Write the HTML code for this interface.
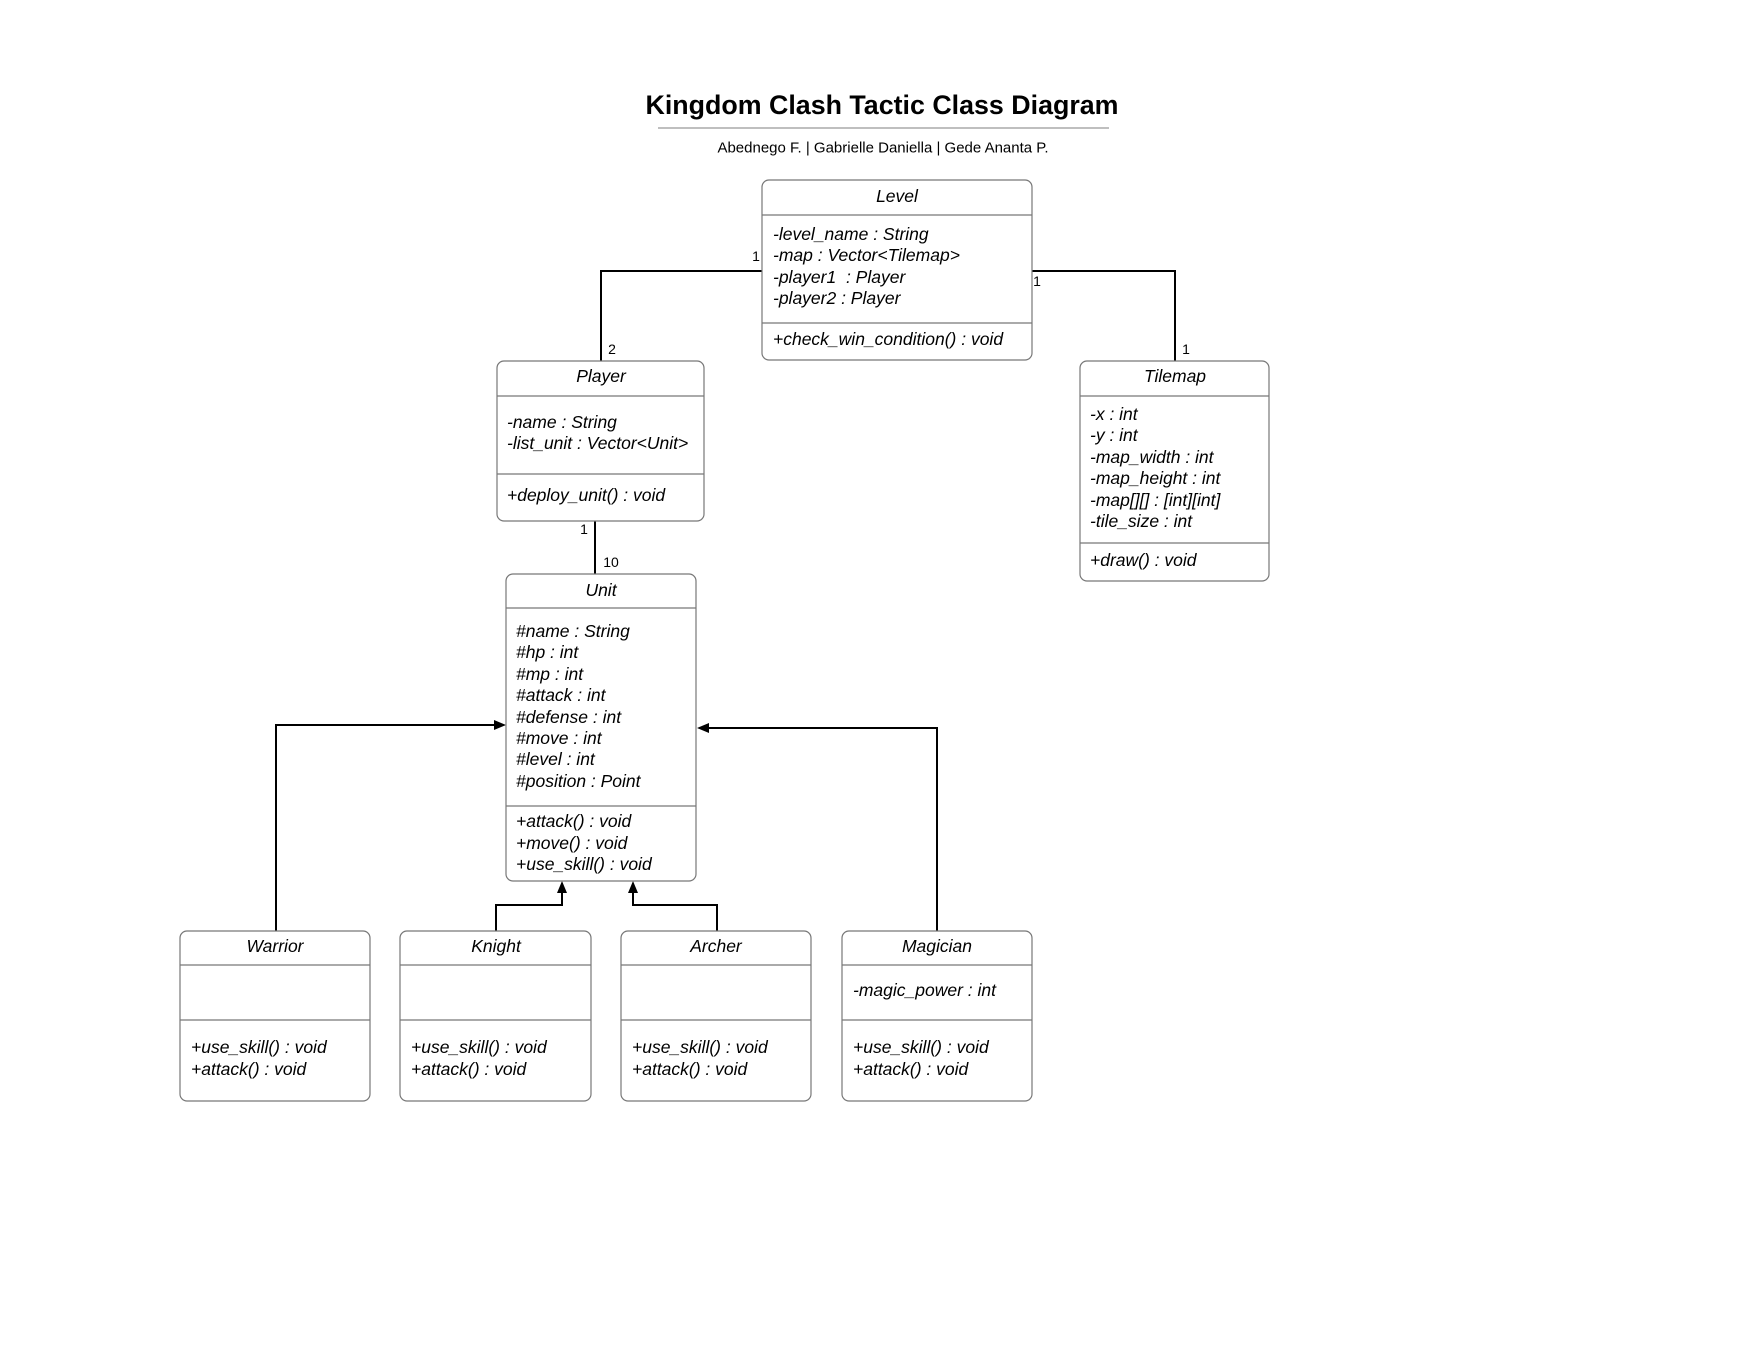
<!DOCTYPE html>
<html><head><meta charset="utf-8"><style>
html,body{margin:0;padding:0;background:#fff;}
svg{display:block;}
text{font-family:"Liberation Sans",sans-serif;fill:#000;}
.i{font-style:italic;font-size:17.5px;}
.m{font-size:14px;}
.box{fill:#fff;stroke:#777;stroke-width:1.2;}
.sep{stroke:#777;stroke-width:1.2;}
.c{stroke:#000;stroke-width:2;fill:none;}
</style></head><body>
<svg width="1763" height="1360" viewBox="0 0 1763 1360" xmlns="http://www.w3.org/2000/svg">
<text x="882" y="105" text-anchor="middle" dominant-baseline="central" font-size="26.8" font-weight="bold">Kingdom Clash Tactic Class Diagram</text>
<line x1="658" y1="128" x2="1109" y2="128" stroke="#aaa" stroke-width="1.5"/>
<text x="883" y="148" text-anchor="middle" dominant-baseline="central" font-size="15">Abednego F. | Gabrielle Daniella | Gede Ananta P.</text>

<!-- connectors -->
<polyline class="c" points="762,271 601,271 601,361"/>
<polyline class="c" points="1032,271 1175,271 1175,361"/>
<line class="c" x1="595" y1="521" x2="595" y2="574"/>
<polyline class="c" points="276,932 276,725 496,725"/>
<polygon points="506,725 494,720 494,730"/>
<polyline class="c" points="937,932 937,728 708,728"/>
<polygon points="697,728 709,723 709,733"/>
<polyline class="c" points="496,932 496,905 562,905 562,893"/>
<polygon points="562,881 557,893 567,893"/>
<polyline class="c" points="717,932 717,905 633,905 633,893"/>
<polygon points="633,881 628,893 638,893"/>

<text class="m" x="756" y="256" text-anchor="middle" dominant-baseline="central">1</text>
<text class="m" x="612" y="349" text-anchor="middle" dominant-baseline="central">2</text>
<text class="m" x="1037" y="281" text-anchor="middle" dominant-baseline="central">1</text>
<text class="m" x="1186" y="349" text-anchor="middle" dominant-baseline="central">1</text>
<text class="m" x="584" y="529" text-anchor="middle" dominant-baseline="central">1</text>
<text class="m" x="611" y="562" text-anchor="middle" dominant-baseline="central">10</text>

<!-- Level -->
<rect class="box" x="762" y="180" width="270" height="180" rx="7"/>
<line class="sep" x1="762" y1="215" x2="1032" y2="215"/>
<line class="sep" x1="762" y1="323" x2="1032" y2="323"/>
<g class="i" dominant-baseline="central">
<text x="897" y="196" text-anchor="middle">Level</text>
<text x="773" y="234">-level_name : String</text>
<text x="773" y="255">-map : Vector&lt;Tilemap&gt;</text>
<text x="773" y="277" xml:space="preserve">-player1  : Player</text>
<text x="773" y="298">-player2 : Player</text>
<text x="773" y="339">+check_win_condition() : void</text>
</g>

<!-- Player -->
<rect class="box" x="497" y="361" width="207" height="160" rx="7"/>
<line class="sep" x1="497" y1="396" x2="704" y2="396"/>
<line class="sep" x1="497" y1="474" x2="704" y2="474"/>
<g class="i" dominant-baseline="central">
<text x="601" y="376" text-anchor="middle">Player</text>
<text x="507" y="422">-name : String</text>
<text x="507" y="443">-list_unit : Vector&lt;Unit&gt;</text>
<text x="507" y="495">+deploy_unit() : void</text>
</g>

<!-- Tilemap -->
<rect class="box" x="1080" y="361" width="189" height="220" rx="7"/>
<line class="sep" x1="1080" y1="396" x2="1269" y2="396"/>
<line class="sep" x1="1080" y1="543" x2="1269" y2="543"/>
<g class="i" dominant-baseline="central">
<text x="1175" y="376" text-anchor="middle">Tilemap</text>
<text x="1090" y="414">-x : int</text>
<text x="1090" y="435">-y : int</text>
<text x="1090" y="457">-map_width : int</text>
<text x="1090" y="478">-map_height : int</text>
<text x="1090" y="500">-map[][] : [int][int]</text>
<text x="1090" y="521">-tile_size : int</text>
<text x="1090" y="560">+draw() : void</text>
</g>

<!-- Unit -->
<rect class="box" x="506" y="574" width="190" height="307" rx="7"/>
<line class="sep" x1="506" y1="608" x2="696" y2="608"/>
<line class="sep" x1="506" y1="806" x2="696" y2="806"/>
<g class="i" dominant-baseline="central">
<text x="601" y="590" text-anchor="middle">Unit</text>
<text x="516" y="631">#name : String</text>
<text x="516" y="652">#hp : int</text>
<text x="516" y="674">#mp : int</text>
<text x="516" y="695">#attack : int</text>
<text x="516" y="717">#defense : int</text>
<text x="516" y="738">#move : int</text>
<text x="516" y="759">#level : int</text>
<text x="516" y="781">#position : Point</text>
<text x="516" y="821">+attack() : void</text>
<text x="516" y="843">+move() : void</text>
<text x="516" y="864">+use_skill() : void</text>
</g>

<!-- subclasses -->
<g>
<rect class="box" x="180" y="931" width="190" height="170" rx="7"/>
<line class="sep" x1="180" y1="965" x2="370" y2="965"/>
<line class="sep" x1="180" y1="1020" x2="370" y2="1020"/>
<rect class="box" x="400" y="931" width="191" height="170" rx="7"/>
<line class="sep" x1="400" y1="965" x2="591" y2="965"/>
<line class="sep" x1="400" y1="1020" x2="591" y2="1020"/>
<rect class="box" x="621" y="931" width="190" height="170" rx="7"/>
<line class="sep" x1="621" y1="965" x2="811" y2="965"/>
<line class="sep" x1="621" y1="1020" x2="811" y2="1020"/>
<rect class="box" x="842" y="931" width="190" height="170" rx="7"/>
<line class="sep" x1="842" y1="965" x2="1032" y2="965"/>
<line class="sep" x1="842" y1="1020" x2="1032" y2="1020"/>
</g>
<g class="i" dominant-baseline="central">
<text x="275" y="946" text-anchor="middle">Warrior</text>
<text x="191" y="1047">+use_skill() : void</text>
<text x="191" y="1069">+attack() : void</text>
<text x="496" y="946" text-anchor="middle">Knight</text>
<text x="411" y="1047">+use_skill() : void</text>
<text x="411" y="1069">+attack() : void</text>
<text x="716" y="946" text-anchor="middle">Archer</text>
<text x="632" y="1047">+use_skill() : void</text>
<text x="632" y="1069">+attack() : void</text>
<text x="937" y="946" text-anchor="middle">Magician</text>
<text x="853" y="990">-magic_power : int</text>
<text x="853" y="1047">+use_skill() : void</text>
<text x="853" y="1069">+attack() : void</text>
</g>
</svg>
</body></html>
